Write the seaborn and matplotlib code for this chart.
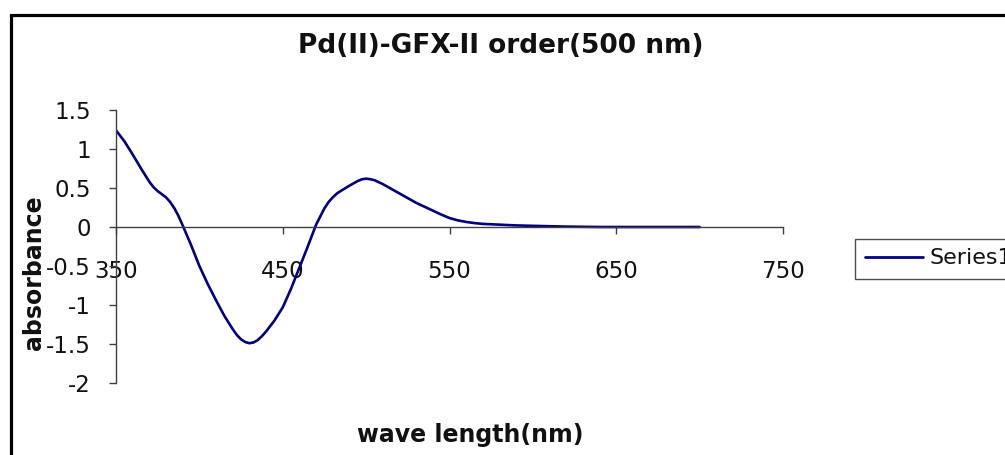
import matplotlib
matplotlib.use("Agg")
import matplotlib.pyplot as plt
import seaborn as sns
import pandas as pd
from matplotlib.patches import Rectangle

wavelength = [350, 355, 360, 365, 370, 372.5, 375, 377.5, 380, 382.5, 385, 387.5, 390,
              395, 400, 405, 410, 415, 420, 422.5, 425, 427.5, 430, 432.5, 435, 437.5,
              440, 445, 450, 455, 460, 465, 470, 475, 477.5, 480, 482.5, 485, 490, 495,
              497.5, 500, 502.5, 505, 510, 515, 520, 525, 530, 535, 540, 545, 550, 555,
              560, 565, 570, 580, 590, 600, 610, 620, 640, 660, 680, 700]
absorbance = [1.24, 1.10, 0.93, 0.75, 0.58, 0.51, 0.46, 0.42, 0.38, 0.32, 0.24, 0.14,
              0.02, -0.23, -0.50, -0.73, -0.94, -1.14, -1.31, -1.385, -1.44, -1.475,
              -1.49, -1.48, -1.45, -1.40, -1.34, -1.20, -1.03, -0.79, -0.52, -0.25, 0.03,
              0.24, 0.32, 0.38, 0.43, 0.465, 0.53, 0.59, 0.612, 0.62, 0.613, 0.60, 0.55,
              0.49, 0.43, 0.37, 0.31, 0.26, 0.21, 0.16, 0.115, 0.085, 0.065, 0.05, 0.04,
              0.03, 0.02, 0.015, 0.01, 0.005, 0.0, 0.0, 0.0, 0.0]
series_name = "Series1"
title = "Pd(II)-GFX-II order(500 nm)"
x_label = "wave length(nm)"
y_label = "absorbance"
x_ticks = [350, 450, 550, 650, 750]
y_ticks = [-2, -1.5, -1, -0.5, 0, 0.5, 1, 1.5]
y_tick_labels = ["-2", "-1.5", "-1", "-0.5", "0", "0.5", "1", "1.5"]

df = pd.DataFrame({"wavelength": wavelength, "absorbance": absorbance,
                   "series": series_name})

sns.set_theme(style="white")
plt.rcParams["font.family"] = ["DejaVu Sans"]
plt.rcParams["lines.solid_joinstyle"] = "round"
plt.rcParams["lines.solid_capstyle"] = "round"

fig = plt.figure(figsize=(10.05, 4.55), dpi=100)
ax = fig.add_axes([116 / 1005, 1 - 383 / 455, (783 - 116) / 1005, (383 - 110) / 455])

sns.lineplot(data=df, x="wavelength", y="absorbance", hue="series",
             palette=["#000080"], linewidth=1.9, ax=ax, legend=True)

ax.set_xlim(350, 750)
ax.set_ylim(-2, 1.5)
ax.set_xticks(x_ticks)
ax.set_xticklabels([str(t) for t in x_ticks])
ax.set_yticks(y_ticks)
ax.set_yticklabels(y_tick_labels)

ax.spines["top"].set_visible(False)
ax.spines["right"].set_visible(False)
ax.spines["bottom"].set_position(("data", 0))
for s in ("left", "bottom"):
    ax.spines[s].set_color("#404040")
    ax.spines[s].set_linewidth(1.0)

ax.tick_params(axis="x", direction="out", length=5, width=1, color="#404040",
               labelsize=16.5, labelcolor="#111111", pad=18.5, bottom=True)
ax.tick_params(axis="y", direction="out", length=5, width=1, color="#404040",
               labelsize=16.5, labelcolor="#111111", pad=13, left=True)

ax.set_xlabel("")
ax.set_ylabel("")
ax.legend_.remove()

fig.text(501 / 1005, 1 - 46 / 455, title, ha="center", va="center",
         fontsize=19, fontweight="bold", color="#111111")
fig.text(470 / 1005, 1 - 435 / 455, x_label, ha="center", va="center",
         fontsize=17, fontweight="bold", color="#111111")
fig.text(34 / 1005, 1 - 273 / 455, y_label, ha="center", va="center",
         fontsize=17, fontweight="bold", rotation=90, color="#111111")

handles, labels = ax.get_legend_handles_labels()
leg = fig.legend(handles, labels, loc="center left",
                 bbox_to_anchor=(855 / 1005, 1 - 258.5 / 455),
                 frameon=True, fancybox=False, fontsize=16,
                 handlelength=2.6, handletextpad=0.3, borderpad=0.45,
                 borderaxespad=0, labelcolor="#111111")
leg.get_frame().set_edgecolor("#202020")
leg.get_frame().set_linewidth(1.0)
for line in leg.get_lines():
    line.set_linewidth(2)

fig.patches.append(Rectangle((11 / 1005, -0.2), 1.5, 1.2 - 14.5 / 455,
                             transform=fig.transFigure, fill=False,
                             edgecolor="black", linewidth=2.3, zorder=10))

fig.savefig("out.png", dpi=100)
